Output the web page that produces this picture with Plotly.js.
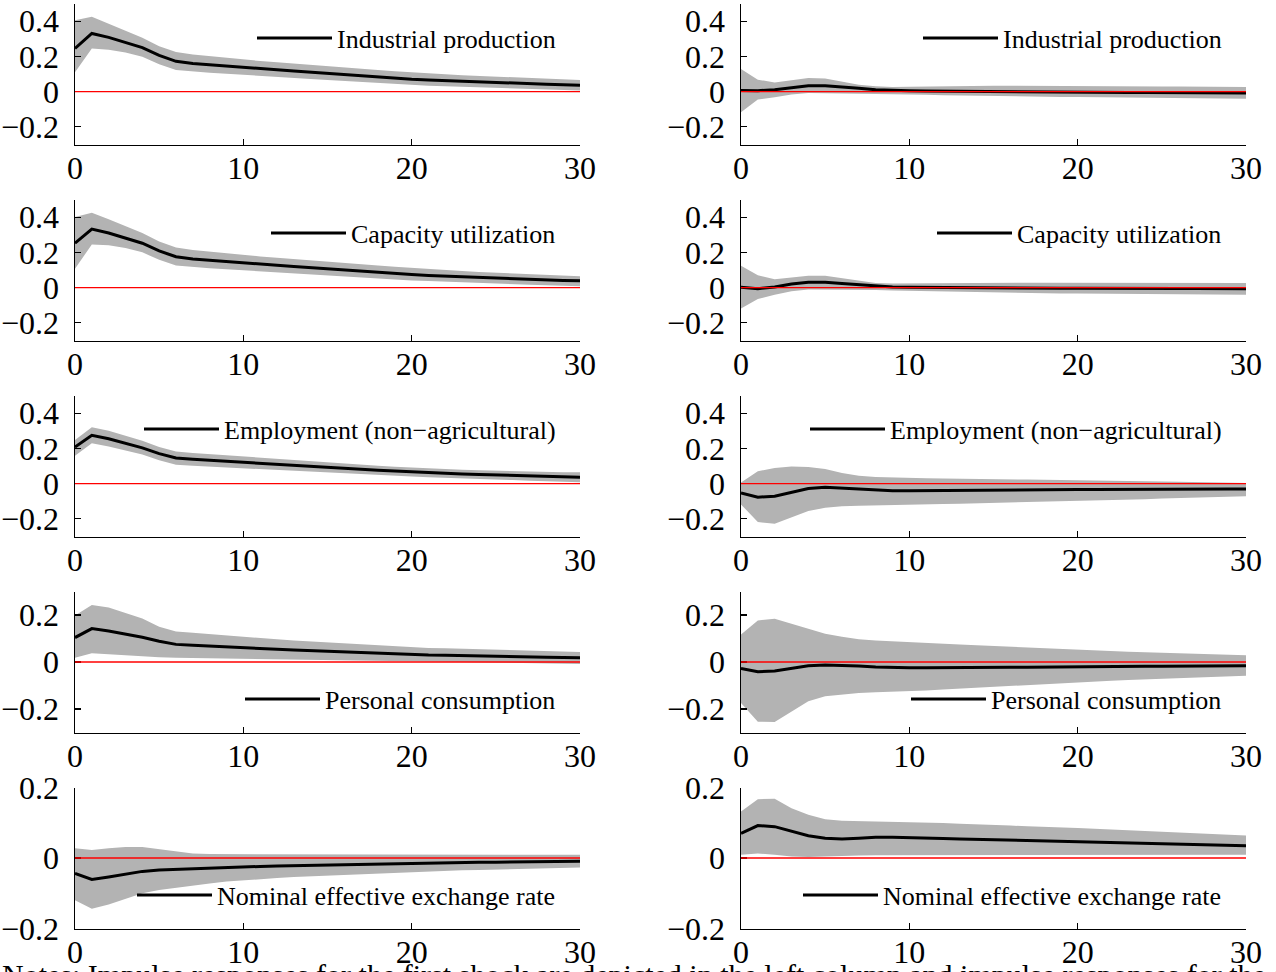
<!DOCTYPE html>
<html>
<head>
<meta charset="utf-8">
<script src="https://cdn.plot.ly/plotly-3.0.1.min.js"></script>
<style>
html,body{margin:0;padding:0;background:#fff;overflow:hidden;}
#chart{width:1276px;height:972px;}
</style>
</head>
<body>
<div id="chart"></div>
<script>
// ---------------- DATA ----------------
const horizon = [0,1,2,3,4,5,6,7,8,9,10,11,12,13,14,15,16,17,18,19,20,21,22,23,24,25,26,27,28,29,30];
const xTickVals = [0,10,20,30];

const variableNames = [
  "Industrial production",
  "Capacity utilization",
  "Employment (non\u2212agricultural)",
  "Personal consumption",
  "Nominal effective exchange rate"
];

// Shock 1 (left column)
const ipS1Mid   = [0.245,0.330,0.308,0.280,0.250,0.206,0.172,0.160,0.152,0.145,0.138,0.131,0.124,0.117,0.110,0.103,0.096,0.089,0.082,0.076,0.070,0.066,0.062,0.058,0.054,0.051,0.048,0.045,0.042,0.039,0.036];
const ipS1Up    = [0.405,0.425,0.385,0.345,0.305,0.258,0.225,0.210,0.200,0.191,0.182,0.174,0.166,0.158,0.150,0.143,0.136,0.129,0.122,0.115,0.108,0.103,0.098,0.093,0.089,0.085,0.081,0.077,0.073,0.070,0.066];
const ipS1Lo    = [0.110,0.245,0.238,0.222,0.198,0.155,0.122,0.113,0.107,0.101,0.096,0.090,0.084,0.078,0.072,0.066,0.060,0.054,0.048,0.042,0.036,0.033,0.030,0.027,0.024,0.021,0.018,0.015,0.012,0.009,0.007];

const cuS1Mid   = [0.252,0.332,0.310,0.283,0.252,0.208,0.175,0.163,0.155,0.148,0.141,0.134,0.127,0.120,0.113,0.106,0.099,0.092,0.086,0.080,0.074,0.069,0.065,0.061,0.057,0.053,0.050,0.047,0.044,0.041,0.039];
const cuS1Up    = [0.400,0.425,0.388,0.350,0.310,0.262,0.228,0.213,0.203,0.194,0.185,0.177,0.169,0.161,0.153,0.146,0.139,0.132,0.125,0.118,0.111,0.105,0.099,0.094,0.089,0.085,0.081,0.077,0.073,0.069,0.065];
const cuS1Lo    = [0.107,0.245,0.240,0.225,0.200,0.158,0.125,0.116,0.110,0.104,0.098,0.092,0.086,0.080,0.074,0.068,0.062,0.056,0.051,0.046,0.041,0.037,0.033,0.029,0.026,0.023,0.020,0.017,0.014,0.011,0.008];

const emS1Mid   = [0.207,0.274,0.255,0.230,0.203,0.170,0.145,0.138,0.132,0.126,0.120,0.114,0.108,0.102,0.096,0.091,0.086,0.081,0.076,0.071,0.066,0.062,0.058,0.055,0.052,0.049,0.046,0.043,0.040,0.038,0.036];
const emS1Up    = [0.248,0.320,0.300,0.272,0.243,0.208,0.182,0.174,0.167,0.160,0.153,0.146,0.139,0.132,0.125,0.119,0.113,0.107,0.101,0.096,0.091,0.087,0.083,0.079,0.076,0.073,0.071,0.069,0.067,0.065,0.064];
const emS1Lo    = [0.158,0.229,0.210,0.188,0.165,0.133,0.107,0.101,0.096,0.091,0.086,0.081,0.076,0.071,0.066,0.061,0.056,0.052,0.048,0.044,0.040,0.036,0.032,0.029,0.026,0.023,0.020,0.017,0.014,0.011,0.008];

const pcS1Mid   = [0.104,0.142,0.132,0.119,0.105,0.088,0.075,0.071,0.067,0.063,0.060,0.057,0.054,0.051,0.048,0.045,0.043,0.040,0.038,0.035,0.032,0.030,0.029,0.027,0.026,0.024,0.023,0.022,0.020,0.019,0.018];
const pcS1Up    = [0.198,0.243,0.232,0.210,0.185,0.150,0.130,0.124,0.118,0.112,0.107,0.102,0.097,0.092,0.088,0.084,0.080,0.076,0.072,0.067,0.062,0.060,0.058,0.056,0.054,0.052,0.050,0.048,0.046,0.044,0.043];
const pcS1Lo    = [0.018,0.037,0.033,0.028,0.024,0.020,0.018,0.017,0.016,0.015,0.013,0.012,0.011,0.010,0.009,0.008,0.007,0.006,0.005,0.004,0.004,0.002,0.001,0.000,-0.001,-0.002,-0.003,-0.004,-0.006,-0.007,-0.008];

const neS1Mid   = [-0.044,-0.061,-0.054,-0.045,-0.038,-0.034,-0.032,-0.031,-0.029,-0.027,-0.025,-0.024,-0.023,-0.022,-0.021,-0.020,-0.019,-0.018,-0.017,-0.016,-0.015,-0.014,-0.014,-0.013,-0.012,-0.012,-0.011,-0.011,-0.010,-0.010,-0.009];
const neS1Up    = [0.028,0.023,0.028,0.031,0.031,0.025,0.018,0.013,0.011,0.011,0.010,0.010,0.010,0.010,0.010,0.010,0.010,0.010,0.010,0.010,0.010,0.010,0.010,0.010,0.009,0.009,0.009,0.009,0.009,0.009,0.009];
const neS1Lo    = [-0.120,-0.144,-0.132,-0.115,-0.100,-0.091,-0.084,-0.078,-0.072,-0.067,-0.063,-0.060,-0.057,-0.054,-0.052,-0.050,-0.048,-0.046,-0.044,-0.042,-0.039,-0.038,-0.037,-0.035,-0.034,-0.033,-0.032,-0.031,-0.029,-0.028,-0.027];

// Shock 2 (right column)
const ipS2Mid   = [0.007,0.005,0.011,0.024,0.033,0.034,0.028,0.019,0.011,0.007,0.005,0.004,0.003,0.002,0.001,0.000,-0.001,-0.002,-0.002,-0.003,-0.003,-0.004,-0.004,-0.005,-0.005,-0.006,-0.006,-0.007,-0.007,-0.008,-0.008];
const ipS2Up    = [0.128,0.068,0.052,0.066,0.077,0.075,0.058,0.039,0.030,0.026,0.027,0.029,0.031,0.032,0.033,0.034,0.034,0.033,0.033,0.032,0.032,0.031,0.031,0.030,0.030,0.029,0.029,0.028,0.027,0.027,0.026];
const ipS2Lo    = [-0.117,-0.045,-0.032,-0.016,-0.008,-0.010,-0.011,-0.012,-0.013,-0.015,-0.016,-0.018,-0.020,-0.022,-0.024,-0.026,-0.027,-0.028,-0.029,-0.030,-0.031,-0.032,-0.033,-0.034,-0.035,-0.036,-0.037,-0.038,-0.039,-0.040,-0.041];

const cuS2Mid   = [0.002,-0.006,0.004,0.020,0.030,0.030,0.024,0.016,0.009,0.004,0.002,0.001,0.000,0.000,-0.001,-0.001,-0.002,-0.002,-0.003,-0.003,-0.003,-0.004,-0.004,-0.004,-0.005,-0.005,-0.005,-0.005,-0.006,-0.006,-0.006];
const cuS2Up    = [0.124,0.070,0.048,0.060,0.068,0.068,0.054,0.036,0.026,0.024,0.025,0.026,0.027,0.028,0.028,0.028,0.028,0.028,0.028,0.028,0.027,0.027,0.027,0.027,0.027,0.026,0.026,0.026,0.026,0.026,0.026];
const cuS2Lo    = [-0.118,-0.065,-0.040,-0.020,-0.010,-0.010,-0.012,-0.013,-0.014,-0.016,-0.018,-0.020,-0.022,-0.024,-0.026,-0.028,-0.030,-0.031,-0.032,-0.033,-0.034,-0.035,-0.036,-0.036,-0.037,-0.038,-0.038,-0.039,-0.039,-0.040,-0.040];

const emS2Mid   = [-0.053,-0.077,-0.071,-0.049,-0.028,-0.021,-0.025,-0.032,-0.037,-0.040,-0.040,-0.039,-0.038,-0.038,-0.037,-0.037,-0.036,-0.036,-0.035,-0.035,-0.034,-0.034,-0.033,-0.033,-0.032,-0.032,-0.031,-0.031,-0.031,-0.030,-0.030];
const emS2Up    = [0.007,0.070,0.088,0.097,0.094,0.083,0.060,0.045,0.038,0.034,0.032,0.030,0.029,0.027,0.026,0.025,0.024,0.023,0.022,0.020,0.019,0.018,0.017,0.015,0.014,0.012,0.011,0.009,0.008,0.006,0.004];
const emS2Lo    = [-0.118,-0.218,-0.227,-0.193,-0.156,-0.137,-0.128,-0.125,-0.124,-0.122,-0.120,-0.118,-0.116,-0.114,-0.112,-0.110,-0.108,-0.106,-0.104,-0.102,-0.100,-0.097,-0.094,-0.091,-0.088,-0.085,-0.082,-0.079,-0.076,-0.074,-0.072];

const pcS2Mid   = [-0.027,-0.041,-0.038,-0.026,-0.016,-0.013,-0.014,-0.017,-0.021,-0.024,-0.024,-0.024,-0.023,-0.023,-0.023,-0.022,-0.022,-0.022,-0.021,-0.021,-0.020,-0.020,-0.019,-0.019,-0.018,-0.018,-0.017,-0.017,-0.017,-0.016,-0.016];
const pcS2Up    = [0.117,0.177,0.184,0.163,0.142,0.120,0.107,0.097,0.091,0.087,0.083,0.080,0.077,0.074,0.071,0.068,0.065,0.062,0.058,0.054,0.050,0.048,0.046,0.044,0.042,0.040,0.038,0.036,0.033,0.031,0.029];
const pcS2Lo    = [-0.174,-0.254,-0.255,-0.210,-0.167,-0.146,-0.138,-0.132,-0.129,-0.127,-0.125,-0.121,-0.117,-0.113,-0.109,-0.105,-0.101,-0.097,-0.093,-0.089,-0.086,-0.083,-0.080,-0.077,-0.074,-0.071,-0.068,-0.065,-0.063,-0.061,-0.059];

const neS2Mid   = [0.070,0.092,0.089,0.075,0.063,0.056,0.054,0.056,0.059,0.059,0.057,0.056,0.055,0.054,0.053,0.052,0.051,0.050,0.049,0.048,0.047,0.046,0.045,0.044,0.043,0.042,0.040,0.039,0.038,0.036,0.035];
const neS2Up    = [0.132,0.167,0.168,0.141,0.123,0.110,0.106,0.105,0.105,0.104,0.103,0.101,0.099,0.097,0.096,0.094,0.092,0.090,0.089,0.087,0.085,0.083,0.081,0.079,0.077,0.075,0.073,0.071,0.069,0.066,0.064];
const neS2Lo    = [0.009,0.013,0.009,0.004,0.003,0.005,0.006,0.007,0.008,0.008,0.008,0.008,0.008,0.009,0.009,0.009,0.009,0.009,0.009,0.009,0.009,0.009,0.009,0.009,0.009,0.009,0.009,0.009,0.009,0.009,0.009];

const yRanges = [[-0.3,0.5],[-0.3,0.5],[-0.3,0.5],[-0.3,0.3],[-0.2,0.2]];
const yTicks  = [[-0.2,0,0.2,0.4],[-0.2,0,0.2,0.4],[-0.2,0,0.2,0.4],[-0.2,0,0.2],[-0.2,0,0.2]];
const yTickText = [["\u22120.2","0","0.2","0.4"],["\u22120.2","0","0.2","0.4"],["\u22120.2","0","0.2","0.4"],["\u22120.2","0","0.2"],["\u22120.2","0","0.2"]];

const noteText = "Notes: Impulse responses for the first shock are depicted in the left column and impulse responses for the second shock in the right column.";

// panels: [row, col, mid, up, lo]
const panels = [
  [0,0,ipS1Mid,ipS1Up,ipS1Lo],[0,1,ipS2Mid,ipS2Up,ipS2Lo],
  [1,0,cuS1Mid,cuS1Up,cuS1Lo],[1,1,cuS2Mid,cuS2Up,cuS2Lo],
  [2,0,emS1Mid,emS1Up,emS1Lo],[2,1,emS2Mid,emS2Up,emS2Lo],
  [3,0,pcS1Mid,pcS1Up,pcS1Lo],[3,1,pcS2Mid,pcS2Up,pcS2Lo],
  [4,0,neS1Mid,neS1Up,neS1Lo],[4,1,neS2Mid,neS2Up,neS2Lo]
];
const legendRowY = [38, 233, 429, 699, 895];

// ---------------- LAYOUT ----------------
const W = 1276, H = 972;
const FONT = "Liberation Serif, Times New Roman, serif";
const colX = [[75,580],[741,1246]];
const rowTop0 = 3.5, rowH = 141, rowStep = 196;
const px = v => v / W;
const py = v => 1 - v / H;

const traces = [];
const layout = {
  width: W, height: H,
  margin: {l:0, r:0, t:0, b:0},
  paper_bgcolor: "#fff", plot_bgcolor: "rgba(0,0,0,0)",
  showlegend: true,
  font: {family: FONT, color: "#000"},
  shapes: [],
  annotations: []
};

panels.forEach((p, i) => {
  const [row, col, mid, up, lo] = p;
  const n = i + 1;
  const xa = n === 1 ? "x" : "x" + n;
  const ya = n === 1 ? "y" : "y" + n;
  const leg = n === 1 ? "legend" : "legend" + n;
  const top = rowTop0 + row * rowStep;
  const bot = top + rowH;

  layout[n === 1 ? "xaxis" : "xaxis" + n] = {
    domain: [px(colX[col][0]), px(colX[col][1])],
    anchor: ya, range: [0, 30],
    tickmode: "array", tickvals: xTickVals,
    ticks: "inside", ticklen: 6, tickwidth: 1.2, tickcolor: "#000",
    showline: true, linecolor: "#000", linewidth: 1.5,
    showgrid: false, zeroline: false,
    tickfont: {family: FONT, size: 32, color: "#000"},
    ticklabelstandoff: -5,
    fixedrange: true
  };
  layout[n === 1 ? "yaxis" : "yaxis" + n] = {
    domain: [py(bot), py(top)],
    anchor: xa, range: yRanges[row],
    tickmode: "array", tickvals: yTicks[row], ticktext: yTickText[row],
    ticks: "inside", ticklen: 6, tickwidth: 1.2, tickcolor: "#000",
    showline: true, linecolor: "#000", linewidth: 1.5,
    showgrid: false, zeroline: false,
    tickfont: {family: FONT, size: 32, color: "#000"},
    ticklabelstandoff: 8,
    fixedrange: true
  };

  traces.push({
    x: horizon, y: lo, xaxis: xa, yaxis: ya, type: "scatter", mode: "lines",
    line: {width: 0, color: "#b3b3b3"}, showlegend: false, hoverinfo: "skip"
  });
  traces.push({
    x: horizon, y: up, xaxis: xa, yaxis: ya, type: "scatter", mode: "lines",
    fill: "tonexty", fillcolor: "#b3b3b3",
    line: {width: 0, color: "#b3b3b3"}, showlegend: false, hoverinfo: "skip"
  });
  traces.push({
    x: horizon, y: mid, xaxis: xa, yaxis: ya, type: "scatter", mode: "lines",
    line: {width: 3, color: "#000"}, name: variableNames[row],
    legend: leg, showlegend: true
  });

  layout.shapes.push({
    type: "line", xref: xa, yref: ya, layer: "above",
    x0: horizon[0], x1: horizon[horizon.length - 1], y0: 0, y1: 0,
    line: {color: "#ff0000", width: 1.3}
  });

  const textRight = col === 0 ? 561 : 1227;
  layout[leg] = {
    x: px(textRight), xanchor: "right",
    y: py(legendRowY[row]), yanchor: "middle",
    bgcolor: "rgba(0,0,0,0)", borderwidth: 0,
    font: {family: FONT, size: 26, color: "#000"},
    itemwidth: 75, itemclick: false, itemdoubleclick: false
  };
});

layout.annotations.push({
  xref: "paper", yref: "paper", x: 0, y: py(956),
  xanchor: "left", yanchor: "top", showarrow: false,
  text: noteText, font: {family: FONT, size: 30, color: "#000"}
});

Plotly.newPlot("chart", traces, layout, {displayModeBar: false, staticPlot: true});
</script>
</body>
</html>
